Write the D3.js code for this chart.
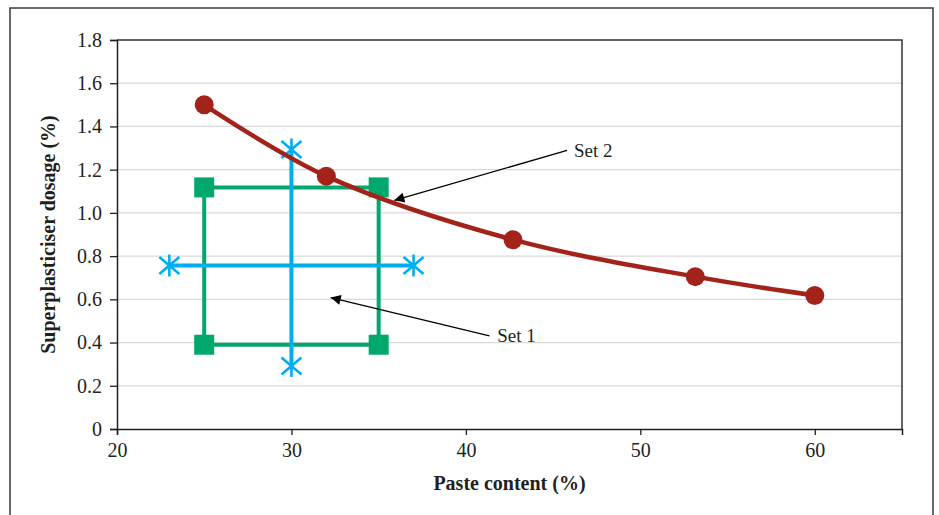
<!DOCTYPE html>
<html><head><meta charset="utf-8">
<script src="https://cdn.jsdelivr.net/npm/d3@7"></script>
<style>
html,body{margin:0;padding:0;background:#fff;}
svg{display:block;}
text{font-family:"Liberation Serif","DejaVu Serif",serif;fill:#231f20;}
</style></head>
<body>
<svg id="chart" width="939" height="515"></svg>
<script>
// ---- data ----
const xTicks = [20, 30, 40, 50, 60];
const yTicks = [0, 0.2, 0.4, 0.6, 0.8, 1.0, 1.2, 1.4, 1.6, 1.8];
const set2X = [25, 32, 42.7, 53.15, 60];
const set2Y = [1.50, 1.17, 0.876, 0.705, 0.618];
const set1SquareX = [25, 35, 35, 25, 25];
const set1SquareY = [1.118, 1.118, 0.39, 0.39, 1.118];
const set1CrossH_X = [23, 37];
const set1CrossH_Y = [0.757, 0.757];
const set1CrossV_X = [30, 30];
const set1CrossV_Y = [0.292, 1.293];
const annLabels = ["Set 2", "Set 1"];
const annTextX = [46.2, 41.8];
const annTextY = [1.29, 0.433];
const annFromX = [45.8, 41.35];
const annFromY = [1.289, 0.431];
const annToX = [35.9, 32.25];
const annToY = [1.058, 0.608];
const xTitle = "Paste content (%)";
const yTitle = "Superplasticiser dosage (%)";

const svg = d3.select("#chart");
const L = 117, R = 902, T = 40, B = 429;
const x = d3.scaleLinear().domain([20, 65]).range([L, R]);
const y = d3.scaleLinear().domain([0, 1.8]).range([B, T]);

// outer frame
svg.append("rect").attr("x", 10).attr("y", 8).attr("width", 923).attr("height", 520)
  .attr("fill", "none").attr("stroke", "#3a3a3a").attr("stroke-width", 1.5);

// gridlines
svg.append("g").selectAll("line").data(yTicks.filter(d => d > 0 && d < 1.8)).join("line")
  .attr("x1", L).attr("x2", R).attr("y1", d => y(d)).attr("y2", d => y(d))
  .attr("stroke", "#d9d9d9").attr("stroke-width", 1.3);

// plot border top/right
svg.append("path").attr("d", `M${L},${T}H${R}V${B}`).attr("fill", "none")
  .attr("stroke", "#333").attr("stroke-width", 1.5);

// axes
const xAxis = svg.append("g").attr("transform", `translate(0,${B})`)
  .call(d3.axisBottom(x).tickValues(xTicks).tickSize(6).tickPadding(8).tickFormat(d3.format("d")));
const yAxis = svg.append("g").attr("transform", `translate(${L},0)`)
  .call(d3.axisLeft(y).tickValues(yTicks).tickSize(7).tickPadding(8).tickFormat(d => d === 0 ? "0" : d3.format(".1f")(d)));
[xAxis, yAxis].forEach(g => {
  g.select(".domain").attr("stroke", "#231f20").attr("stroke-width", 1.5);
  g.selectAll(".tick line").attr("stroke", "#231f20").attr("stroke-width", 1.3);
  g.selectAll(".tick text").attr("font-family", '"Liberation Serif",serif').attr("font-size", 20).attr("fill", "#231f20");
});

// axis titles
svg.append("text").attr("x", (L + R) / 2).attr("y", 490).attr("text-anchor", "middle")
  .attr("font-weight", "bold").attr("font-size", 20).text(xTitle);
svg.append("text").attr("transform", `translate(55,${(T + B) / 2}) rotate(-90)`).attr("text-anchor", "middle")
  .attr("font-weight", "bold").attr("font-size", 20).text(yTitle);

const green = "#00a86b", blue = "#00aeef", red = "#a3231a";

// Set 1 square
const sq = set1SquareX.map((d, i) => [x(d), y(set1SquareY[i])]);
svg.append("path").attr("d", d3.line()(sq)).attr("fill", "none").attr("stroke", green).attr("stroke-width", 4);
svg.append("g").selectAll("rect").data(sq.slice(0, 4)).join("rect")
  .attr("x", d => d[0] - 10).attr("y", d => d[1] - 10).attr("width", 20).attr("height", 20).attr("fill", green);

// Set 1 cross
const ch = set1CrossH_X.map((d, i) => [x(d), y(set1CrossH_Y[i])]);
const cv = set1CrossV_X.map((d, i) => [x(d), y(set1CrossV_Y[i])]);
[ch, cv].forEach(pts => {
  svg.append("path").attr("d", d3.line()(pts)).attr("fill", "none").attr("stroke", blue).attr("stroke-width", 4);
});
const starPts = ch.concat(cv);
const s = 10;
svg.append("g").selectAll("path").data(starPts).join("path")
  .attr("d", d => `M${d[0]-s},${d[1]-s*0.85}L${d[0]+s},${d[1]+s*0.85}M${d[0]-s},${d[1]+s*0.85}L${d[0]+s},${d[1]-s*0.85}M${d[0]},${d[1]-s*1.1}V${d[1]+s*1.1}`)
  .attr("stroke", blue).attr("stroke-width", 2.6).attr("fill", "none");

// Set 2 curve
const rp = set2X.map((d, i) => [x(d), y(set2Y[i])]);
svg.append("path").attr("d", d3.line().curve(d3.curveCatmullRom.alpha(0.5))(rp))
  .attr("fill", "none").attr("stroke", red).attr("stroke-width", 4.5);
svg.append("g").selectAll("circle").data(rp).join("circle")
  .attr("cx", d => d[0]).attr("cy", d => d[1]).attr("r", 9.5).attr("fill", red);

// annotations
svg.append("defs").append("marker").attr("id", "ah").attr("viewBox", "0 0 10 10")
  .attr("refX", 10).attr("refY", 5).attr("markerWidth", 14).attr("markerHeight", 10)
  .attr("markerUnits", "userSpaceOnUse").attr("orient", "auto")
  .append("path").attr("d", "M0,0L10,5L0,10Z").attr("fill", "#000");
annLabels.forEach((lab, i) => {
  svg.append("line").attr("x1", x(annFromX[i])).attr("y1", y(annFromY[i]))
    .attr("x2", x(annToX[i])).attr("y2", y(annToY[i]))
    .attr("stroke", "#000").attr("stroke-width", 1.3).attr("marker-end", "url(#ah)");
  svg.append("text").attr("x", x(annTextX[i])).attr("y", y(annTextY[i])).attr("dy", "0.35em")
    .attr("font-size", 19).text(lab);
});
</script>
</body></html>
